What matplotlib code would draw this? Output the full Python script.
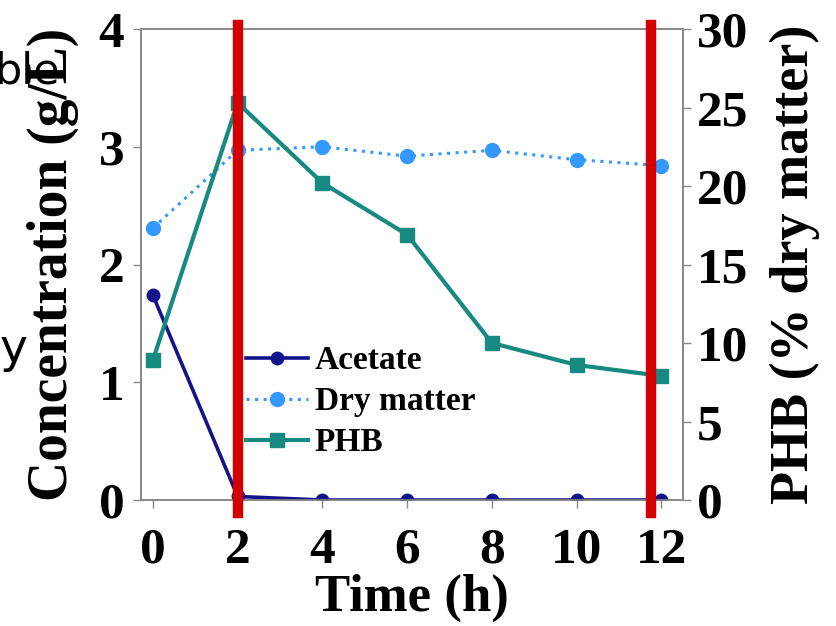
import matplotlib
matplotlib.use("Agg")
import matplotlib.pyplot as plt

time_h = [0, 2, 4, 6, 8, 10, 12]
acetate = [1.74, 0.03, 0.0, 0.0, 0.0, 0.0, 0.0]
dry_matter = [2.31, 2.97, 3.00, 2.92, 2.97, 2.89, 2.84]
phb = [8.9, 25.3, 20.2, 16.9, 10.0, 8.6, 7.9]
red_lines = [2.0, 11.75]
x_ticks = [0, 2, 4, 6, 8, 10, 12]
left_ticks = [0, 1, 2, 3, 4]
right_ticks = [0, 5, 10, 15, 20, 25, 30]

serif = ["Liberation Serif", "DejaVu Serif"]
W, H = 837, 626
fig = plt.figure(figsize=(W / 100, H / 100), dpi=100)
ax = fig.add_axes([141 / W, 1 - 500 / H, (683 - 141) / W, (500 - 29) / H])
ax2 = ax.twinx()

ax.set_xlim(-0.28, 12.51)
ax.set_ylim(0, 4)
ax2.set_ylim(0, 30)

c_ac = "#14148a"
c_dm = "#3399ff"
c_phb = "#168a80"
c_red = "#d40000"

l1, = ax.plot(time_h, acetate, color=c_ac, lw=2.6, marker="o", ms=9, label="Acetate", zorder=3)
l2, = ax.plot(time_h, dry_matter, color=c_dm, lw=2.2, ls=(0, (1, 1.8)), marker="o", ms=10, label="Dry matter", zorder=3)
l3, = ax2.plot(time_h, phb, color=c_phb, lw=3, marker="s", ms=10, label="PHB", zorder=3)

for xv in red_lines:
    ax2.axvline(xv, ymin=-0.028, ymax=1.008, color=c_red, lw=7.5, clip_on=False, zorder=4)

for a in (ax, ax2):
    for s in a.spines.values():
        s.set_color("#888888")
        s.set_linewidth(1.2)

ax.set_xticks(x_ticks)
ax.set_yticks(left_ticks)
ax2.set_yticks(right_ticks)
ax.tick_params(axis="both", colors="#888888", length=6, width=1.0, labelcolor="black")
ax2.tick_params(axis="y", colors="#888888", length=6, width=1.0, labelcolor="black")
for lab in ax.get_xticklabels() + ax.get_yticklabels() + ax2.get_yticklabels():
    lab.set_fontfamily(serif)
    lab.set_fontweight("bold")
    lab.set_fontsize(37)
ax.tick_params(axis="x", pad=14)
ax.tick_params(axis="y", pad=6)
ax2.tick_params(axis="y", pad=4)

ax.set_xlabel("Time (h)", fontfamily=serif, fontweight="bold", fontsize=38, labelpad=0)
ax.set_ylabel("Concentration (g/L)", fontfamily=serif, fontweight="bold", fontsize=40, labelpad=14)
ax2.set_ylabel("PHB (% dry matter)", fontfamily=serif, fontweight="bold", fontsize=39, labelpad=15)

leg = ax.legend(handles=[l1, l2, l3], loc="upper left", bbox_to_anchor=(0.17, 0.357),
                frameon=False, handlelength=1.85, handletextpad=0.2, labelspacing=0.3,
                prop={"family": serif, "weight": "bold", "size": 24}, borderaxespad=0)

fig.text(-6 / W, 1 - 83 / H, "ble", fontfamily="DejaVu Sans", fontsize=31, color="black",
         ha="left", va="baseline", zorder=10)
fig.text(0.0, 1 - 362 / H, "y", fontfamily="DejaVu Sans", fontsize=34, color="black",
         ha="left", va="baseline", zorder=10)

fig.savefig("out.png", dpi=100)
